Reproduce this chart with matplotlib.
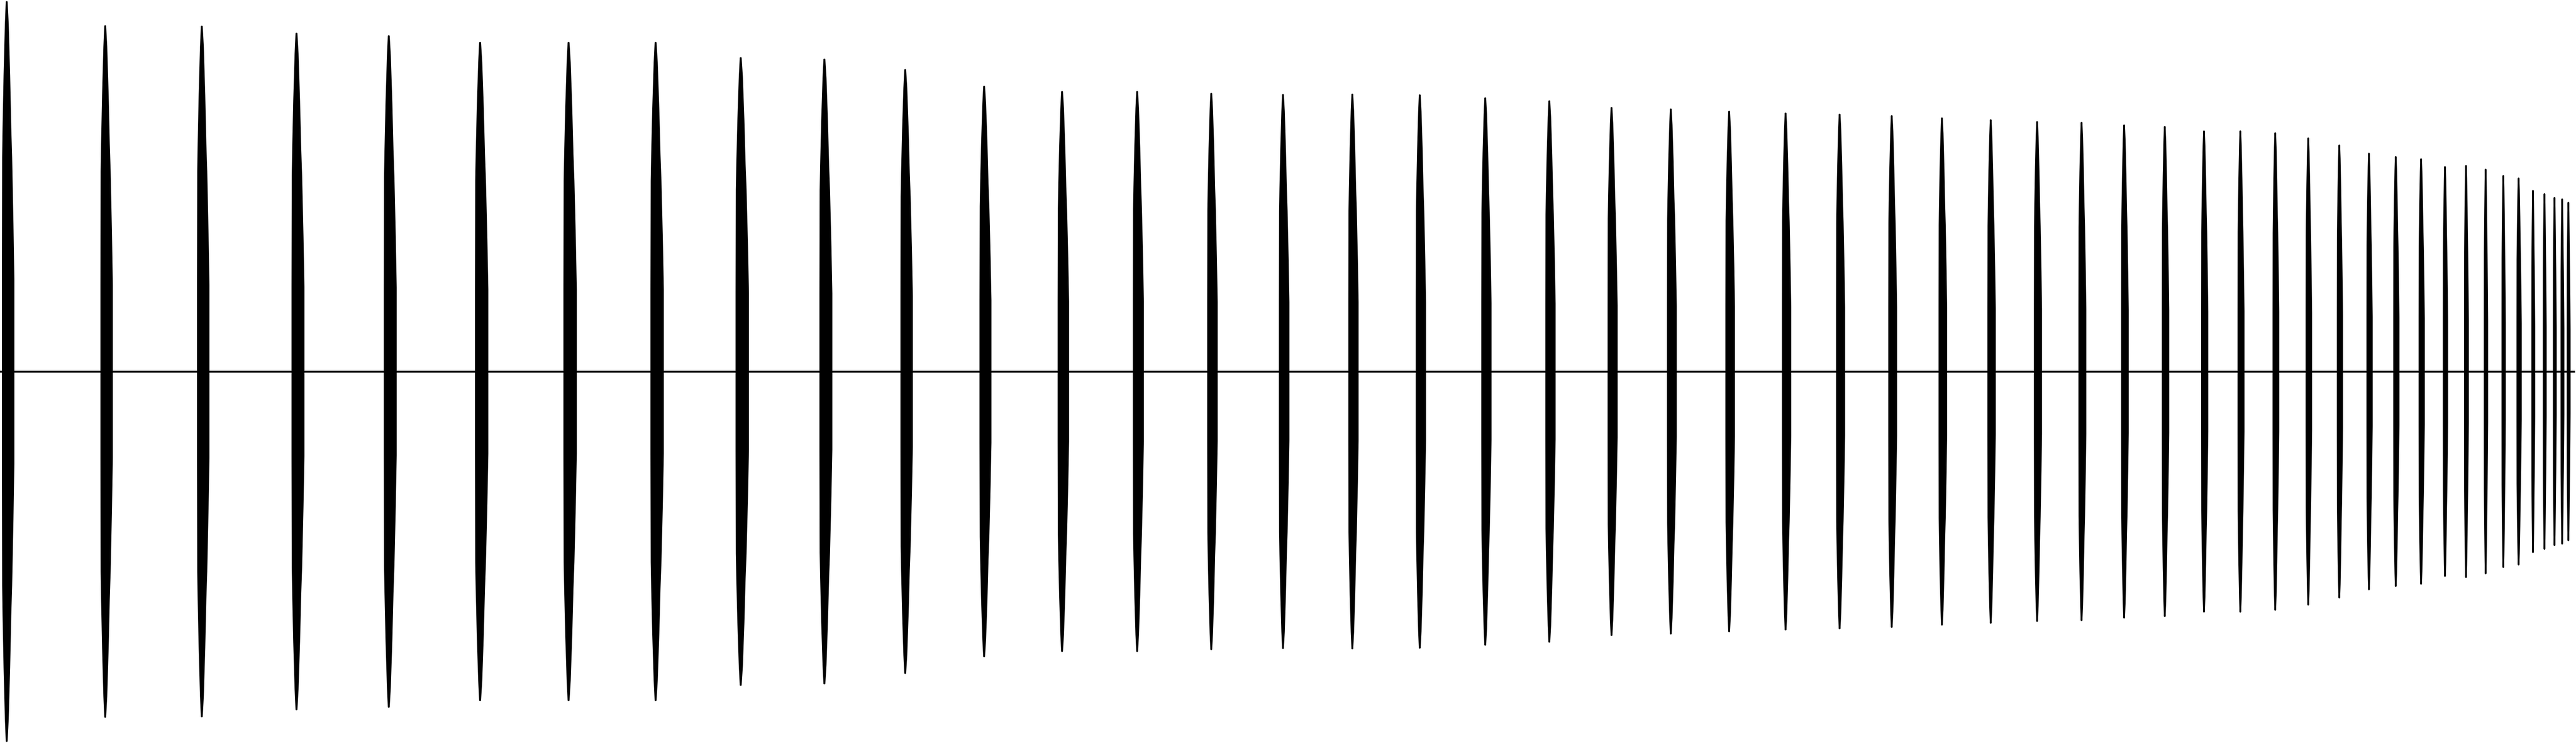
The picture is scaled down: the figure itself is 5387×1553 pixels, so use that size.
import numpy as np
import matplotlib
matplotlib.use("Agg")
import matplotlib.pyplot as plt

# Peak time of each impact burst (s)
peak_times = [0.014, 0.220, 0.422, 0.620, 0.813, 1.004, 1.189, 1.371, 1.549, 1.724,
              1.893, 2.058, 2.221, 2.378, 2.533, 2.683, 2.828, 2.969, 3.106, 3.240,
              3.370, 3.494, 3.616, 3.734, 3.847, 3.956, 4.061, 4.163, 4.260, 4.353,
              4.442, 4.527, 4.609, 4.685, 4.758, 4.827, 4.892, 4.954, 5.010, 5.063,
              5.113, 5.157, 5.198, 5.235, 5.267, 5.297, 5.321, 5.342, 5.358, 5.371]

# Peak amplitude of each burst (normalised, full scale = 1)
peak_amps = [0.995, 0.930, 0.929, 0.910, 0.903, 0.885, 0.885, 0.885, 0.844, 0.840,
             0.812, 0.767, 0.753, 0.753, 0.748, 0.745, 0.746, 0.744, 0.736, 0.728,
             0.710, 0.706, 0.700, 0.695, 0.692, 0.688, 0.682, 0.677, 0.672, 0.670,
             0.663, 0.659, 0.647, 0.647, 0.642, 0.628, 0.609, 0.587, 0.578, 0.572,
             0.551, 0.554, 0.544, 0.527, 0.520, 0.487, 0.478, 0.468, 0.464, 0.455]

# Duration of each burst (s)
durations = [0.023, 0.023, 0.023, 0.024, 0.024, 0.025, 0.025, 0.025, 0.025, 0.024,
             0.023, 0.022, 0.021, 0.020, 0.019, 0.019, 0.0185, 0.0185, 0.0185, 0.0185,
             0.018, 0.0175, 0.017, 0.0165, 0.016, 0.0155, 0.015, 0.0145, 0.014, 0.0135,
             0.013, 0.0125, 0.012, 0.0115, 0.011, 0.0105, 0.010, 0.010, 0.010, 0.010,
             0.008, 0.007, 0.006, 0.006, 0.008, 0.005, 0.005, 0.005, 0.005, 0.005]

# Normalised envelope of one burst: position within burst (0..1) and relative level
env_pos = [0.0, 0.0, 0.02, 0.06, 0.15, 0.27, 0.35, 0.39, 0.49, 0.62, 0.72, 0.80, 0.92, 1.0, 1.0]
env_lvl = [0.0, 0.25, 0.58, 0.66, 0.80, 0.94, 1.00, 1.00, 0.94, 0.80, 0.66, 0.58, 0.40, 0.25, 0.0]
env_peak = 0.37

signal_end = 5.385
total_span = 5.387

fig = plt.figure(figsize=(53.87, 15.53), dpi=100)
ax = fig.add_axes([0, 0, 1, 1])
ax.set_xlim(0, total_span)
ax.set_ylim(-1.0, 1.0)
ax.axis("off")

px = 72.0 / 100.0
ax.plot([0, signal_end], [0, 0], color="black", lw=4 * px, solid_capstyle="butt")

u = np.array(env_pos)
g = np.array(env_lvl)
for t, a, d in zip(peak_times, peak_amps, durations):
    onset = t - env_peak * d
    xs_up = onset + u * d
    ys_up = a * g
    xs = np.concatenate([xs_up, xs_up[::-1]])
    ys = np.concatenate([ys_up, -ys_up[::-1]])
    ax.fill(xs, ys, facecolor="black", edgecolor="black", lw=3 * px, joinstyle="round")

fig.savefig("out.png", dpi=100, facecolor="white")
